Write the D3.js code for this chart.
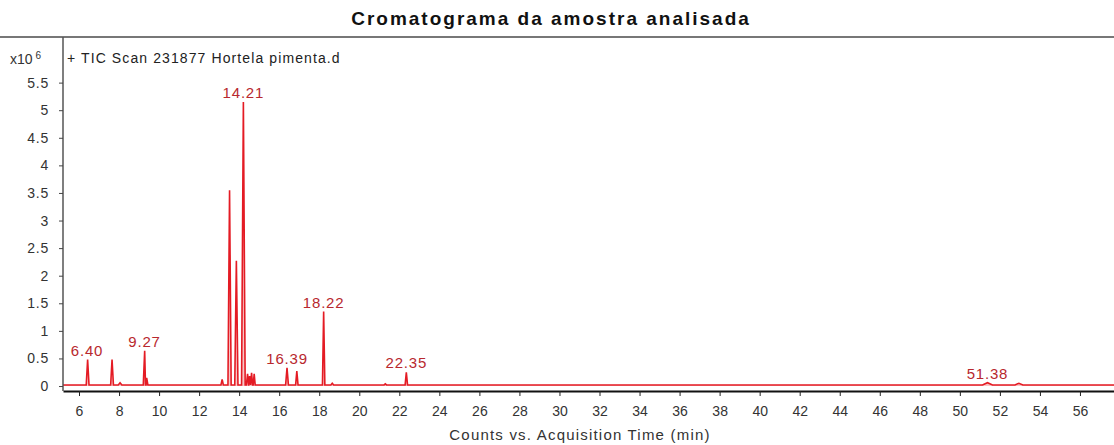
<!DOCTYPE html>
<html><head><meta charset="utf-8">
<script src="https://cdn.jsdelivr.net/npm/d3@7"></script>
<style>
body{margin:0;background:#fff;}
svg{display:block;font-family:"Liberation Sans",Arial,sans-serif;}
</style></head>
<body><svg id="c" width="1114" height="445"></svg>
<script>
// Data (intensity in x10^6 counts, time in min)
const peakTimes   = [6.43, 7.65, 8.05, 9.28, 9.38, 10.5, 12.3, 13.15, 13.52, 13.86, 14.21, 14.42, 14.52, 14.62, 14.75, 16.39, 16.88, 18.22, 18.65, 19.6, 21.3, 22.35, 48.8, 51.38, 52.95];
const peakHeights = [0.48, 0.48, 0.06, 0.64, 0.15, 0.02, 0.02, 0.12, 3.55, 2.27, 5.15, 0.22, 0.18, 0.24, 0.22, 0.33, 0.27, 1.35, 0.05, 0.02, 0.04, 0.25, 0.02, 0.06, 0.05];
const peakWidths  = [0.07, 0.07, 0.09, 0.07, 0.06, 0.06, 0.06, 0.06, 0.08, 0.08, 0.09, 0.06, 0.05, 0.05, 0.05, 0.07, 0.06, 0.06, 0.07, 0.06, 0.06, 0.06, 0.1, 0.25, 0.2];
const labelTimes  = [6.40, 9.27, 14.21, 16.39, 18.22, 22.35, 51.38];
const labelHeights= [0.48, 0.64, 5.15, 0.33, 1.35, 0.25, 0.06];
const xTicks = d3.range(6, 57, 2);
const yTicks = [0,0.5,1,1.5,2,2.5,3,3.5,4,4.5,5,5.5];
const baselineLevel = 0.02;
const xDomain = [5.2, 57.7];
const yDomain = [-0.09, 6.2];

(function(){
const svg = d3.select("#c");
const W = 1114;
const mLeft = 63, mRight = 1114, mTop = 44, mBottom = 391;

const x = d3.scaleLinear().domain(xDomain).range([mLeft, mRight]);
const y = d3.scaleLinear().domain(yDomain).range([mBottom, mTop]);

// top rule
svg.append("line").attr("x1",0).attr("x2",W).attr("y1",37).attr("y2",37)
  .attr("stroke","#777").attr("stroke-width",2);

// title
svg.append("text").attr("x",551).attr("y",25).attr("text-anchor","middle")
  .attr("font-size",19).attr("font-weight","bold").attr("fill","#111")
  .attr("letter-spacing",2)
  .text("Cromatograma da amostra analisada");

// build chromatogram points from peak arrays
const pts = [[xDomain[0], baselineLevel]];
peakTimes.forEach((t,i)=>{
  pts.push([t-peakWidths[i], baselineLevel]);
  pts.push([t, peakHeights[i]]);
  pts.push([t+peakWidths[i], baselineLevel]);
});
pts.push([xDomain[1], baselineLevel]);
pts.sort((a,b)=>a[0]-b[0]);

const line = d3.line().x(d=>x(d[0])).y(d=>y(d[1]));
const area = d3.area().x(d=>x(d[0])).y0(y(0)).y1(d=>y(d[1]));

svg.append("path").datum(pts).attr("d",area).attr("fill","#f3a0a0").attr("opacity",0.6);
svg.append("path").datum(pts).attr("d",line).attr("fill","none")
  .attr("stroke","#e41b24").attr("stroke-width",1.6).attr("stroke-linejoin","miter");

// peak labels
svg.append("g").selectAll("text").data(labelTimes).join("text")
  .attr("x",(d)=>x(d)).attr("y",(d,i)=>y(labelHeights[i])-4)
  .attr("text-anchor","middle").attr("font-size",15).attr("letter-spacing",0.8)
  .attr("fill","#b8282e")
  .text(d=>d.toFixed(2));

// axes
const xAxis = d3.axisBottom(x).tickValues(xTicks).tickSize(5).tickSizeOuter(0).tickFormat(d3.format("d"));
const gx = svg.append("g").attr("transform",`translate(0,${mBottom})`).call(xAxis);
gx.select(".domain").attr("stroke","#111").attr("stroke-width",2.2);
gx.selectAll(".tick line").attr("stroke","#222");
gx.selectAll(".tick text").attr("font-size",14).attr("fill","#333").attr("dy","1.2em")
  .attr("font-family","Liberation Sans, Arial, sans-serif");

const yAxis = d3.axisLeft(y).tickValues(yTicks).tickSize(4).tickPadding(10).tickSizeOuter(0).tickFormat(d=>d===0?"0":String(d));
const gy = svg.append("g").attr("transform",`translate(${mLeft},0)`).call(yAxis);
gy.select(".domain").attr("stroke","#555").attr("stroke-width",1.5)
  .attr("d",`M0,${37}V${mBottom}`);
gy.selectAll(".tick line").attr("stroke","#444");
gy.selectAll(".tick text").attr("font-size",14).attr("fill","#333").attr("letter-spacing",0.8)
  .attr("font-family","Liberation Sans, Arial, sans-serif");

// y header x10^6
const hdr = svg.append("text").attr("x",10).attr("y",64).attr("font-size",14).attr("fill","#333");
hdr.append("tspan").text("x10");
hdr.append("tspan").attr("dx",3).attr("dy",-5).attr("font-size",10).text("6");

// series label
svg.append("text").attr("x",67).attr("y",63).attr("font-size",14).attr("fill","#222")
  .attr("letter-spacing",1.1)
  .text("+ TIC Scan 231877 Hortela pimenta.d");

// x axis title
svg.append("text").attr("x",580).attr("y",440).attr("text-anchor","middle")
  .attr("font-size",15).attr("fill","#333").attr("letter-spacing",1.2)
  .text("Counts vs. Acquisition Time (min)");
})();
</script></body></html>
